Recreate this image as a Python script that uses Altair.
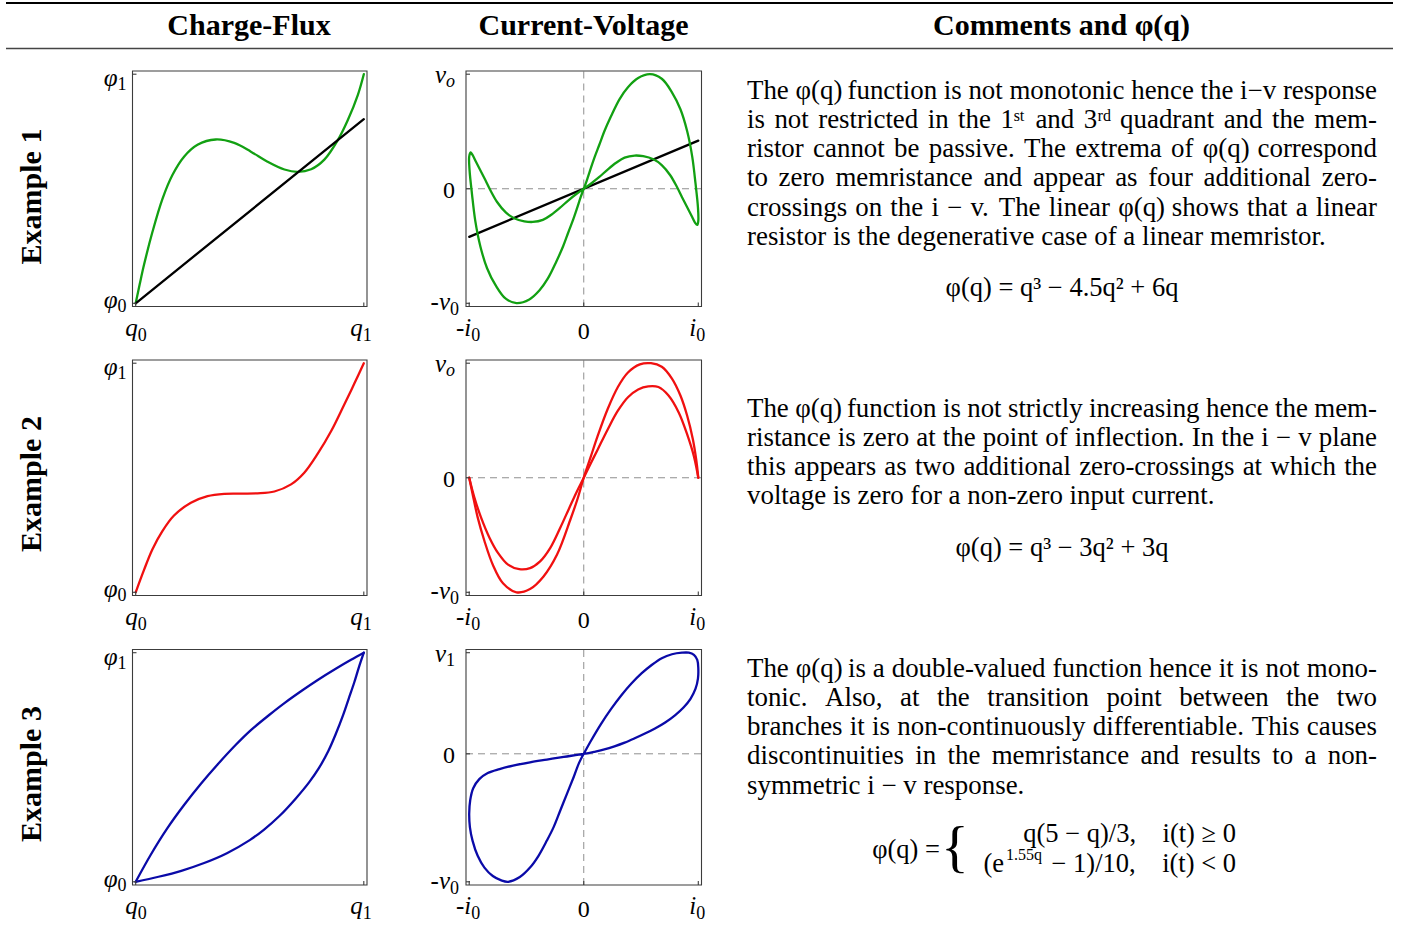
import altair as alt
import pandas as pd

FONT = "Liberation Serif"
GREEN = "#12a012"
RED = "#f01010"
BLUE = "#0a0aa8"
FRAME = "#3c3c3c"

# ---------------- values ----------------
# Example 1, charge-flux (normalised q0..q1, phi0..phi1)
CF1_Q = [0.0, 0.018, 0.037, 0.073, 0.117, 0.161, 0.212, 0.271, 0.351, 0.432, 0.505,
         0.578, 0.652, 0.710, 0.769, 0.827, 0.886, 0.930, 0.974, 1.0]
CF1_PHI = [0.0, 0.085, 0.17, 0.31, 0.455, 0.56, 0.64, 0.692, 0.715, 0.700, 0.662,
           0.618, 0.584, 0.574, 0.585, 0.627, 0.712, 0.800, 0.910, 1.0]
CF1_LIN_Q = [0.0, 1.0]
CF1_LIN_PHI = [0.0, 0.804]

# Example 1, current-voltage loop
IV1_I = [0.0, 0.027, 0.056, 0.091, 0.136, 0.180, 0.239, 0.313, 0.386, 0.475, 0.578, 0.681,
         0.770, 0.844, 0.903, 0.947, 0.976, 0.997, 1.0, 0.991, 0.971, 0.941, 0.903, 0.858,
         0.814, 0.755, 0.681, 0.608, 0.519, 0.445, 0.357, 0.283, 0.209, 0.136, 0.062, 0.0,
         -0.062, -0.136, -0.209, -0.283, -0.357, -0.445, -0.519, -0.608, -0.681, -0.755,
         -0.814, -0.858, -0.903, -0.941, -0.971, -0.988, -1.0, -0.997, -0.976, -0.947,
         -0.903, -0.844, -0.770, -0.681, -0.587, -0.475, -0.386, -0.313, -0.239, -0.180,
         -0.136, -0.091, -0.056, -0.027, 0.0]
IV1_V = [0.0, 0.074, 0.163, 0.266, 0.384, 0.502, 0.635, 0.783, 0.886, 0.966, 1.0, 0.960,
         0.842, 0.694, 0.502, 0.281, 0.044, -0.162, -0.281, -0.316, -0.295, -0.236, -0.162,
         -0.074, 0.015, 0.118, 0.207, 0.257, 0.284, 0.290, 0.272, 0.227, 0.168, 0.103, 0.044,
         0.0, -0.044, -0.103, -0.168, -0.227, -0.272, -0.290, -0.284, -0.257, -0.207, -0.118,
         -0.015, 0.074, 0.162, 0.236, 0.295, 0.318, 0.281, 0.162, -0.044, -0.281, -0.502,
         -0.694, -0.842, -0.960, -0.998, -0.966, -0.886, -0.783, -0.635, -0.502, -0.384,
         -0.266, -0.163, -0.074, 0.0]
IV1_LIN_I = [-1.0, 1.0]
IV1_LIN_V = [-0.42, 0.42]

# Example 2, charge-flux
CF2_Q = [0.0, 0.037, 0.073, 0.117, 0.168, 0.242, 0.315, 0.388, 0.461, 0.534, 0.608,
         0.681, 0.739, 0.798, 0.857, 0.915, 0.959, 1.0]
CF2_PHI = [0.0, 0.099, 0.187, 0.267, 0.335, 0.391, 0.420, 0.430, 0.431, 0.432, 0.440,
           0.471, 0.522, 0.605, 0.704, 0.821, 0.912, 1.0]

# Example 2, current-voltage (outer and inner branch)
IV2A_I = [-1.0, -0.971, -0.926, -0.867, -0.794, -0.705, -0.587, -0.469, -0.351, -0.233,
          -0.115, -0.056, 0.0, 0.062, 0.121, 0.209, 0.298, 0.386, 0.490, 0.587, 0.681,
          0.770, 0.844, 0.903, 0.953, 0.982, 1.0]
IV2A_V = [0.0, -0.139, -0.346, -0.552, -0.759, -0.921, -1.0, -0.972, -0.862, -0.671,
          -0.360, -0.190, 0.0, 0.186, 0.363, 0.600, 0.792, 0.919, 0.990, 1.0, 0.969,
          0.866, 0.718, 0.541, 0.334, 0.157, 0.0]
IV2B_I = [1.0, 0.962, 0.903, 0.829, 0.740, 0.652, 0.563, 0.475, 0.386, 0.298, 0.209,
          0.121, 0.062, 0.0, -0.062, -0.130, -0.204, -0.292, -0.381, -0.469, -0.563,
          -0.661, -0.749, -0.823, -0.897, -0.956, -1.0]
IV2B_V = [0.0, 0.186, 0.378, 0.570, 0.718, 0.792, 0.798, 0.771, 0.703, 0.585, 0.422,
          0.245, 0.127, 0.0, -0.124, -0.272, -0.434, -0.612, -0.730, -0.789, -0.798,
          -0.759, -0.656, -0.523, -0.346, -0.168, 0.0]

# Example 3, charge-flux (two branches)
CF3U_Q = [0.0, 0.066, 0.139, 0.212, 0.286, 0.359, 0.439, 0.505, 0.585, 0.652, 0.731,
          0.798, 0.877, 0.944, 1.0]
CF3U_PHI = [0.0, 0.118, 0.234, 0.335, 0.428, 0.512, 0.598, 0.662, 0.728, 0.780, 0.836,
            0.881, 0.930, 0.969, 1.0]
CF3L_Q = [0.0, 0.1, 0.2, 0.3, 0.4, 0.5, 0.563, 0.63, 0.702, 0.76, 0.803, 0.845, 0.877,
          0.91, 0.934, 0.958, 0.978, 1.0]
CF3L_PHI = [0.0, 0.022, 0.048, 0.082, 0.125, 0.182, 0.228, 0.287, 0.364, 0.434, 0.496,
            0.572, 0.645, 0.73, 0.80, 0.87, 0.935, 1.0]

# Example 3, current-voltage loop
IV3_I = [0.0, 0.062, 0.150, 0.239, 0.327, 0.416, 0.504, 0.593, 0.681, 0.770, 0.858, 0.917,
         0.962, 0.991, 1.0, 0.997, 0.976, 0.932, 0.873, 0.799, 0.711, 0.622, 0.534, 0.445,
         0.357, 0.268, 0.180, 0.091, 0.0,
         -0.174, -0.322, -0.469, -0.617, -0.735, -0.838, -0.912, -0.965, -0.991, -1.0,
         -0.994, -0.971, -0.926, -0.867, -0.794, -0.720, -0.660, -0.558, -0.469, -0.395,
         -0.322, -0.263, -0.204, -0.145, -0.086, -0.041, 0.0]
IV3_V = [0.0, 0.100, 0.232, 0.351, 0.456, 0.549, 0.628, 0.694, 0.747, 0.778, 0.790, 0.790,
         0.773, 0.734, 0.668, 0.588, 0.509, 0.430, 0.364, 0.303, 0.245, 0.198, 0.158, 0.121,
         0.087, 0.058, 0.034, 0.016, 0.0,
         -0.024, -0.045, -0.066, -0.092, -0.119, -0.150, -0.198, -0.269, -0.361, -0.467,
         -0.573, -0.678, -0.797, -0.889, -0.955, -0.989, -1.0, -0.963, -0.889, -0.797,
         -0.678, -0.573, -0.441, -0.309, -0.177, -0.071, 0.0]
IV3_VTOP = 0.79

# tick values and labels: (value, main text, subscript)
CF_YTICKS = [(0.0, "φ", "0"), (1.0, "φ", "1")]
CF_XTICKS = [(0.0, "q", "0"), (1.0, "q", "1")]
IV_XTICKS = [(-1.0, "-i", "0"), (0.0, "0", ""), (1.0, "i", "0")]
IV_YTICKS = [(-1.0, "-v", "0"), (0.0, "0", ""), (1.0, "v", "o")]
IV3_YTICKS = [(-1.0, "-v", "0"), (0.0, "0", ""), (IV3_VTOP, "v", "1")]

HEADERS = ["Charge-Flux", "Current-Voltage", "Comments and φ(q)"]
ROW_LABELS = ["Example 1", "Example 2", "Example 3"]
TEXT1 = [
    "The φ(q) function is not monotonic hence the i−v response",
    "is not restricted in the 1ˢᵗ and 3ʳᵈ quadrant and the mem-",
    "ristor cannot be passive. The extrema of φ(q) correspond",
    "to zero memristance and appear as four additional zero-",
    "crossings on the i − v. The linear φ(q) shows that a linear",
    "resistor is the degenerative case of a linear memristor.",
]
TEXT2 = [
    "The φ(q) function is not strictly increasing hence the mem-",
    "ristance is zero at the point of inflection. In the i − v plane",
    "this appears as two additional zero-crossings at which the",
    "voltage is zero for a non-zero input current.",
]
TEXT3 = [
    "The φ(q) is a double-valued function hence it is not mono-",
    "tonic. Also, at the transition point between the two",
    "branches it is non-continuously differentiable. This causes",
    "discontinuities in the memristance and results to a non-",
    "symmetric i − v response.",
]
FORMULA1 = "φ(q) = q³ − 4.5q² + 6q"
FORMULA2 = "φ(q) = q³ − 3q² + 3q"
F3_LHS = "φ(q) ="
F3_L1 = "q(5 − q)/3,\u2003i(t) ≥ 0"
F3_L2A = "(e"
F3_L2SUP = "1.55q"
F3_L2B = "− 1)/10,\u2003i(t) < 0"

# ---------------- layout (pixels) ----------------
CF_XPX = [132.5, 367.0]
IV_XPX = [466.0, 701.5]
ROW_TOP = [71.0, 360.0, 649.5]
ROW_H = 235.5
CF_DOM = [-0.014, 1.014]
IV_DOM = [-1.028, 1.028]
IV3_YDOM = [-1.025, 0.815]

# label offsets: per tick -> (split dx, main baseline dy, subscript baseline dy)
CF_YOFF = [(-15, 5, 9), (-15, 12, 16)]
CF_XOFF = [(2, 29, 34), (-1, 29, 34)]
IV_YOFF = [(-16, 7, 12), (-11, 9, 0), (-20, 9, 13)]
IV_XOFF = [(2, 29, 34), (0, 32, 0), (-2, 29, 34)]
LAB_SIZE = 25
SUB_SIZE = 18
BODY_SIZE = 26.9

# advance widths of the serif font (1/1000 em), used to justify the paragraphs
ADV = {" ": 250, "(": 333, ")": 333, ",": 250, "-": 333, ".": 250, "/": 278, "<": 564,
       "=": 564, "−": 564, "≥": 549, "φ": 520, "²": 300, "³": 300,
       "ˢ": 250, "ᵗ": 200, "ʳ": 220, "ᵈ": 280,
       "A": 722, "B": 667, "C": 667, "D": 722, "E": 611, "F": 556, "G": 722, "H": 722,
       "I": 333, "J": 389, "K": 722, "L": 611, "M": 889, "N": 722, "O": 722, "P": 556,
       "Q": 722, "R": 667, "S": 556, "T": 611, "U": 722, "V": 722, "W": 944, "X": 722,
       "Y": 722, "Z": 611,
       "a": 444, "b": 500, "c": 444, "d": 500, "e": 444, "f": 333, "g": 500, "h": 500,
       "i": 278, "j": 278, "k": 500, "l": 278, "m": 778, "n": 500, "o": 500, "p": 500,
       "q": 500, "r": 333, "s": 389, "t": 278, "u": 500, "v": 500, "w": 722, "x": 500,
       "y": 500, "z": 444}


def text_width(s, fs):
    return sum(ADV.get(c, 500) for c in s) * fs / 1000.0


def curve_df(xs, ys, s=0):
    return pd.DataFrame({"x": xs, "y": ys, "o": list(range(len(xs))), "s": [s] * len(xs)})


def panel(curves, xdom, xpx, ydom, ypx, xt, xoff, yt, yoff, dashed):
    xs = alt.Scale(domain=xdom, range=xpx, nice=False, zero=False)
    ys = alt.Scale(domain=ydom, range=ypx, nice=False, zero=False)

    def X(f):
        return alt.X(f, type="quantitative", scale=xs, axis=None)

    def Y(f):
        return alt.Y(f, type="quantitative", scale=ys, axis=None)

    layers = []
    if dashed:
        layers.append(
            alt.Chart(pd.DataFrame({"x": [0.0], "y0": [ydom[0]], "y1": [ydom[1]]}))
            .mark_rule(color="#8f8f8f", strokeWidth=1, strokeDash=[7, 5])
            .encode(x=X("x"), y=Y("y0"), y2="y1"))
        layers.append(
            alt.Chart(pd.DataFrame({"y": [0.0], "x0": [xdom[0]], "x1": [xdom[1]]}))
            .mark_rule(color="#8f8f8f", strokeWidth=1, strokeDash=[7, 5])
            .encode(y=Y("y"), x=X("x0"), x2="x1"))
    for df, col in curves:
        layers.append(
            alt.Chart(df)
            .mark_line(color=col, strokeWidth=2.3, interpolate="catmull-rom",
                       strokeCap="round", strokeJoin="round")
            .encode(x=X("x"), y=Y("y"), order="o:Q", detail="s:N"))
    layers.append(
        alt.Chart(pd.DataFrame({"x0": [xdom[0]], "x1": [xdom[1]], "y0": [ydom[0]], "y1": [ydom[1]]}))
        .mark_rect(fill="white", fillOpacity=0, stroke=FRAME, strokeWidth=1.1)
        .encode(x=X("x0"), x2="x1", y=Y("y0"), y2="y1"))
    layers.append(
        alt.Chart(pd.DataFrame({"xa": [xdom[0]] * len(yt), "y": [t[0] for t in yt]}))
        .mark_rule(color=FRAME, strokeWidth=1.1, x2Offset=4)
        .encode(x=X("xa"), x2="xa", y=Y("y")))
    layers.append(
        alt.Chart(pd.DataFrame({"x": [t[0] for t in xt], "ya": [ydom[0]] * len(xt)}))
        .mark_rule(color=FRAME, strokeWidth=1.1, y2Offset=-4)
        .encode(x=X("x"), y=Y("ya"), y2="ya"))
    # left tick labels
    for (v, main, sub), (sdx, mdy, sdy) in zip(yt, yoff):
        df = pd.DataFrame({"xa": [xdom[0]], "y": [v], "m": [main], "s": [sub]})
        layers.append(
            alt.Chart(df).mark_text(font=FONT, fontSize=24 if main == "0" else LAB_SIZE,
                                    align="right", baseline="alphabetic", dx=sdx, dy=mdy,
                                    fontStyle="normal" if main == "0" else "italic")
            .encode(x=X("xa"), y=Y("y"), text="m:N"))
        if sub:
            layers.append(
                alt.Chart(df).mark_text(font=FONT, fontSize=SUB_SIZE, align="left",
                                        baseline="alphabetic", dx=sdx, dy=sdy,
                                        fontStyle="italic" if sub.isalpha() else "normal")
                .encode(x=X("xa"), y=Y("y"), text="s:N"))
    # bottom tick labels
    for (v, main, sub), (sdx, mdy, sdy) in zip(xt, xoff):
        df = pd.DataFrame({"x": [v], "ya": [ydom[0]], "m": [main], "s": [sub]})
        layers.append(
            alt.Chart(df).mark_text(font=FONT, fontSize=24 if main == "0" else LAB_SIZE,
                                    align="center" if main == "0" else "right",
                                    baseline="alphabetic", dx=sdx, dy=mdy,
                                    fontStyle="normal" if main == "0" else "italic")
            .encode(x=X("x"), y=Y("ya"), text="m:N"))
        if sub:
            layers.append(
                alt.Chart(df).mark_text(font=FONT, fontSize=SUB_SIZE, align="left",
                                        baseline="alphabetic", dx=sdx, dy=sdy)
                .encode(x=X("x"), y=Y("ya"), text="s:N"))
    return alt.layer(*layers)


def ypx(r):
    return [ROW_TOP[r] + ROW_H, ROW_TOP[r]]


panels = [
    panel([(curve_df(CF1_Q, CF1_PHI), GREEN), (curve_df(CF1_LIN_Q, CF1_LIN_PHI), "black")],
          CF_DOM, CF_XPX, CF_DOM, ypx(0), CF_XTICKS, CF_XOFF, CF_YTICKS, CF_YOFF, False),
    panel([(curve_df(IV1_LIN_I, IV1_LIN_V), "black"), (curve_df(IV1_I, IV1_V), GREEN)],
          IV_DOM, IV_XPX, IV_DOM, ypx(0), IV_XTICKS, IV_XOFF, IV_YTICKS, IV_YOFF, True),
    panel([(curve_df(CF2_Q, CF2_PHI), RED)],
          CF_DOM, CF_XPX, CF_DOM, ypx(1), CF_XTICKS, CF_XOFF, CF_YTICKS, CF_YOFF, False),
    panel([(curve_df(IV2A_I, IV2A_V, 0), RED), (curve_df(IV2B_I, IV2B_V, 1), RED)],
          IV_DOM, IV_XPX, IV_DOM, ypx(1), IV_XTICKS, IV_XOFF, IV_YTICKS, IV_YOFF, True),
    panel([(curve_df(CF3U_Q, CF3U_PHI, 0), BLUE), (curve_df(CF3L_Q, CF3L_PHI, 1), BLUE)],
          CF_DOM, CF_XPX, CF_DOM, ypx(2), CF_XTICKS, CF_XOFF, CF_YTICKS, CF_YOFF, False),
    panel([(curve_df(IV3_I, IV3_V), BLUE)],
          IV_DOM, IV_XPX, IV3_YDOM, ypx(2), IV_XTICKS, IV_XOFF, IV3_YTICKS, IV_YOFF, True),
]


# ---------------- annotation (pixel positioned) ----------------
def PX(f):
    return alt.X(f, type="quantitative", scale=None, axis=None)


def PY(f):
    return alt.Y(f, type="quantitative", scale=None, axis=None)


def text_layer(px, py, texts, **kw):
    df = pd.DataFrame({"px": px, "py": py, "t": texts})
    return alt.Chart(df).mark_text(font=FONT, **kw).encode(x=PX("px"), y=PY("py"), text="t:N")


annos = []
annos.append(alt.Chart(pd.DataFrame({"a": [6], "b": [1393], "y": [3.0]}))
             .mark_rule(color="black", strokeWidth=2.2)
             .encode(x=PX("a"), x2="b", y=PY("y")))
annos.append(alt.Chart(pd.DataFrame({"a": [6], "b": [1393], "y": [48.5]}))
             .mark_rule(color="#444444", strokeWidth=1.4)
             .encode(x=PX("a"), x2="b", y=PY("y")))
annos.append(text_layer([249, 583.5, 1061.5], [35, 35, 35], HEADERS,
                        fontSize=30, fontWeight="bold", align="center", baseline="alphabetic"))
annos.append(text_layer([32, 32, 32], [196.5, 484, 774], ROW_LABELS,
                        fontSize=30, fontWeight="bold", align="center", baseline="middle",
                        angle=270))

# justified paragraphs: words spread across the column width
TX0, TX1 = 747, 1377
BASE = [98.5, 416.5, 676.5]
LS = 29.3
items = {"left": [], "right": []}
for b, lines in zip(BASE, [TEXT1, TEXT2, TEXT3]):
    for k, line in enumerate(lines):
        y = b + k * LS
        if k == len(lines) - 1:
            items["left"].append((TX0, y, line))
            continue
        words = line.split(" ")
        ws = [text_width(w, BODY_SIZE) for w in words]
        gap = (TX1 - TX0 - sum(ws)) / (len(words) - 1)
        x = TX0
        for j, (w, wd) in enumerate(zip(words, ws)):
            if j == len(words) - 1:
                items["right"].append((TX1, y, w))
            else:
                items["left"].append((x, y, w))
            x += wd + gap
for a, its in items.items():
    annos.append(text_layer([i[0] for i in its], [i[1] for i in its], [i[2] for i in its],
                            fontSize=BODY_SIZE, align=a, baseline="alphabetic"))

annos.append(text_layer([1062, 1062], [296, 556], [FORMULA1, FORMULA2],
                        fontSize=26.5, align="center", baseline="alphabetic"))
annos.append(text_layer([940], [858], [F3_LHS], fontSize=26.5, align="right", baseline="alphabetic"))
annos.append(text_layer([955], [849], ["{"], fontSize=58, align="center", baseline="middle"))
annos.append(text_layer([1236, 1236], [842, 872], [F3_L1, F3_L2B],
                        fontSize=26.5, align="right", baseline="alphabetic"))
annos.append(text_layer([1004], [872], [F3_L2A], fontSize=26.5, align="right", baseline="alphabetic"))
annos.append(text_layer([1006], [860], [F3_L2SUP], fontSize=16, align="left", baseline="alphabetic"))

chart = (
    alt.layer(*panels, *annos)
    .resolve_scale(x="independent", y="independent")
    .properties(width=1413, height=927, padding=0,
                autosize=alt.AutoSizeParams(type="none"), background="white")
    .configure_view(stroke=None)
)

chart.save("out.html", embed_options={"renderer": "svg", "actions": False})
